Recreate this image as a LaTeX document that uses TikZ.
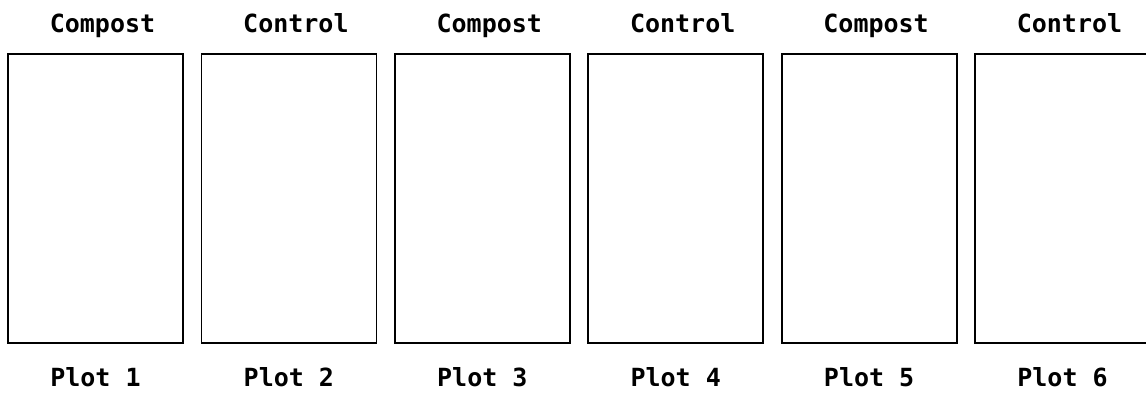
\documentclass[tikz,border=0pt]{standalone}
\usepackage{fontspec}
\setmonofont{DejaVu Sans Mono}
\usetikzlibrary{positioning}
\begin{document}
\begin{tikzpicture}[x=1pt,y=1pt,
  plotbox/.style={draw,line width=1.8pt,minimum width=175pt,minimum height=289pt,inner sep=0pt},
  plotlabel/.style={font=\ttfamily\bfseries\fontsize{25}{30}\selectfont,anchor=base,inner sep=0pt}]
\useasboundingbox (0,0) rectangle (1146,394);
\foreach \i/\kind in {1/Compost,2/Control,3/Compost,4/Control,5/Compost,6/Control}{
  \node[plotbox] (plot\i) at ({95.5+193.4*(\i-1)},195.5) {};
  \node[plotlabel] (kind\i) at ([xshift=7pt,yshift=21pt]plot\i.north) {\kind};
  \node[plotlabel] (name\i) at ([yshift=-43pt]plot\i.south) {Plot \i};
}
\end{tikzpicture}
\end{document}
